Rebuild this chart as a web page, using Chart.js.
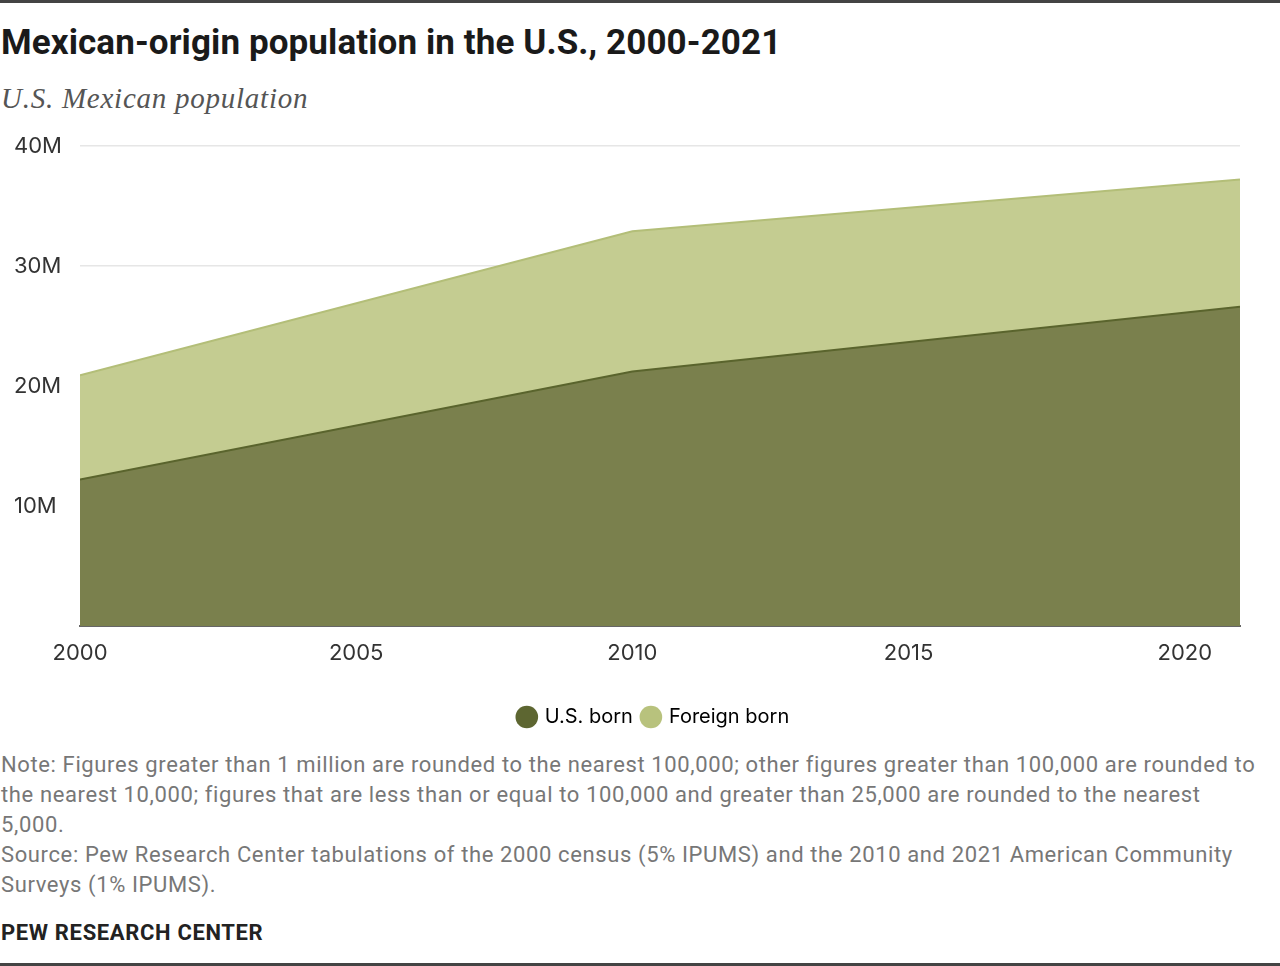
<!DOCTYPE html>
<html>
<head>
<meta charset="utf-8">
<script src="https://cdn.jsdelivr.net/npm/chart.js@4"></script>
<style>
  html, body { margin:0; padding:0; background:#fff; }
  body { width:1280px; height:966px; position:relative; overflow:hidden; }
  .topbar { position:absolute; left:0; top:0; width:1280px; height:3px; background:#444; }
  .botbar { position:absolute; left:0; top:963px; width:1280px; height:3px; background:#444; }
  .title { position:absolute; left:1px; top:22px; font-family:'Roboto',sans-serif; font-weight:bold; font-size:35px; color:#1a1a1a; white-space:nowrap; letter-spacing:0.1px; }
  .subtitle { position:absolute; left:1px; top:82px; font-family:'Liberation Serif','DejaVu Serif',serif; font-style:italic; font-size:29px; color:#555; white-space:nowrap; letter-spacing:0.75px; }
  .notes { position:absolute; left:1px; top:750px; font-family:'Roboto',sans-serif; font-size:22px; line-height:30px; color:#777; white-space:nowrap; letter-spacing:0.62px; }
  .brand { position:absolute; left:1px; top:920px; font-family:'Roboto',sans-serif; font-weight:bold; font-size:22px; color:#222; white-space:nowrap; letter-spacing:0.65px; }
  #wrap { position:absolute; left:0; top:124px; width:1280px; height:613px; }
</style>
</head>
<body>
<div class="topbar"></div>
<div class="title">Mexican-origin population in the U.S., 2000-2021</div>
<div class="subtitle">U.S. Mexican population</div>
<div id="wrap"><canvas id="c"></canvas></div>
<div class="notes">Note: Figures greater than 1 million are rounded to the nearest 100,000; other figures greater than 100,000 are rounded to<br>the nearest 10,000; figures that are less than or equal to 100,000 and greater than 25,000 are rounded to the nearest<br>5,000.<br>Source: Pew Research Center tabulations of the 2000 census (5% IPUMS) and the 2010 and 2021 American Community<br>Surveys (1% IPUMS).</div>
<div class="brand">PEW RESEARCH CENTER</div>
<div class="botbar"></div>
<script>
// Data (millions)
const years = [2000, 2010, 2021];
const usBorn = [12.2, 21.2, 26.6];
const foreignBorn = [8.7, 11.7, 10.6];
const seriesNames = ['U.S. born', 'Foreign born'];
const yTickValues = [10, 20, 30, 40];
const xTickValues = [2000, 2005, 2010, 2015, 2020];

const toPts = arr => arr.map((v, i) => ({ x: years[i], y: v }));
const legendColors = ['#5d6631', '#b8c27d'];
const tickFont = { family: "Inter, 'Liberation Sans', Arial, sans-serif", size: 22 };

new Chart(document.getElementById('c'), {
  type: 'line',
  data: {
    datasets: [
      { label: seriesNames[0], data: toPts(usBorn), fill: 'origin', backgroundColor: '#7a804d', borderColor: '#5a642d', borderWidth: 2, pointRadius: 0, tension: 0 },
      { label: seriesNames[1], data: toPts(foreignBorn), fill: '-1', backgroundColor: '#c4cc91', borderColor: '#b3be78', borderWidth: 2, pointRadius: 0, tension: 0 }
    ]
  },
  options: {
    responsive: true,
    maintainAspectRatio: false,
    animation: false,
    layout: { padding: { left: 68, right: 40, top: 22, bottom: 0 } },
    plugins: {
      tooltip: { enabled: false },
      legend: {
        position: 'bottom',
        labels: {
          usePointStyle: true,
          pointStyle: 'circle',
          boxWidth: 16, boxHeight: 16,
          padding: 10,
          color: '#222',
          font: { family: "Inter, 'Liberation Sans', Arial, sans-serif", size: 20 },
          generateLabels: (chart) => chart.data.datasets.map((d, i) => ({
            text: d.label, fillStyle: legendColors[i], strokeStyle: legendColors[i], lineWidth: 0,
            pointStyle: 'circle', datasetIndex: i, hidden: false
          }))
        }
      }
    },
    scales: {
      x: {
        type: 'linear', min: 2000, max: 2021,
        afterBuildTicks: s => { s.ticks = xTickValues.map(v => ({ value: v })); },
        afterFit: s => { s.height = 71; },
        grid: { display: false },
        border: { display: true, color: '#666', width: 2 },
        ticks: { padding: 6, color: '#333', font: tickFont, callback: v => String(v), maxRotation: 0 }
      },
      y: {
        stacked: true, min: 0, max: 40,
        afterBuildTicks: s => { s.ticks = [0].concat(yTickValues).map(v => ({ value: v })); },
        afterFit: s => { s.width = 12; },
        grid: { color: '#e6e6e6', lineWidth: 1.5, drawTicks: false },
        border: { display: false },
        ticks: { mirror: true, padding: -66, color: '#333', font: tickFont, callback: v => v === 0 ? '' : v + 'M' }
      }
    }
  }
});
</script>
</body>
</html>
